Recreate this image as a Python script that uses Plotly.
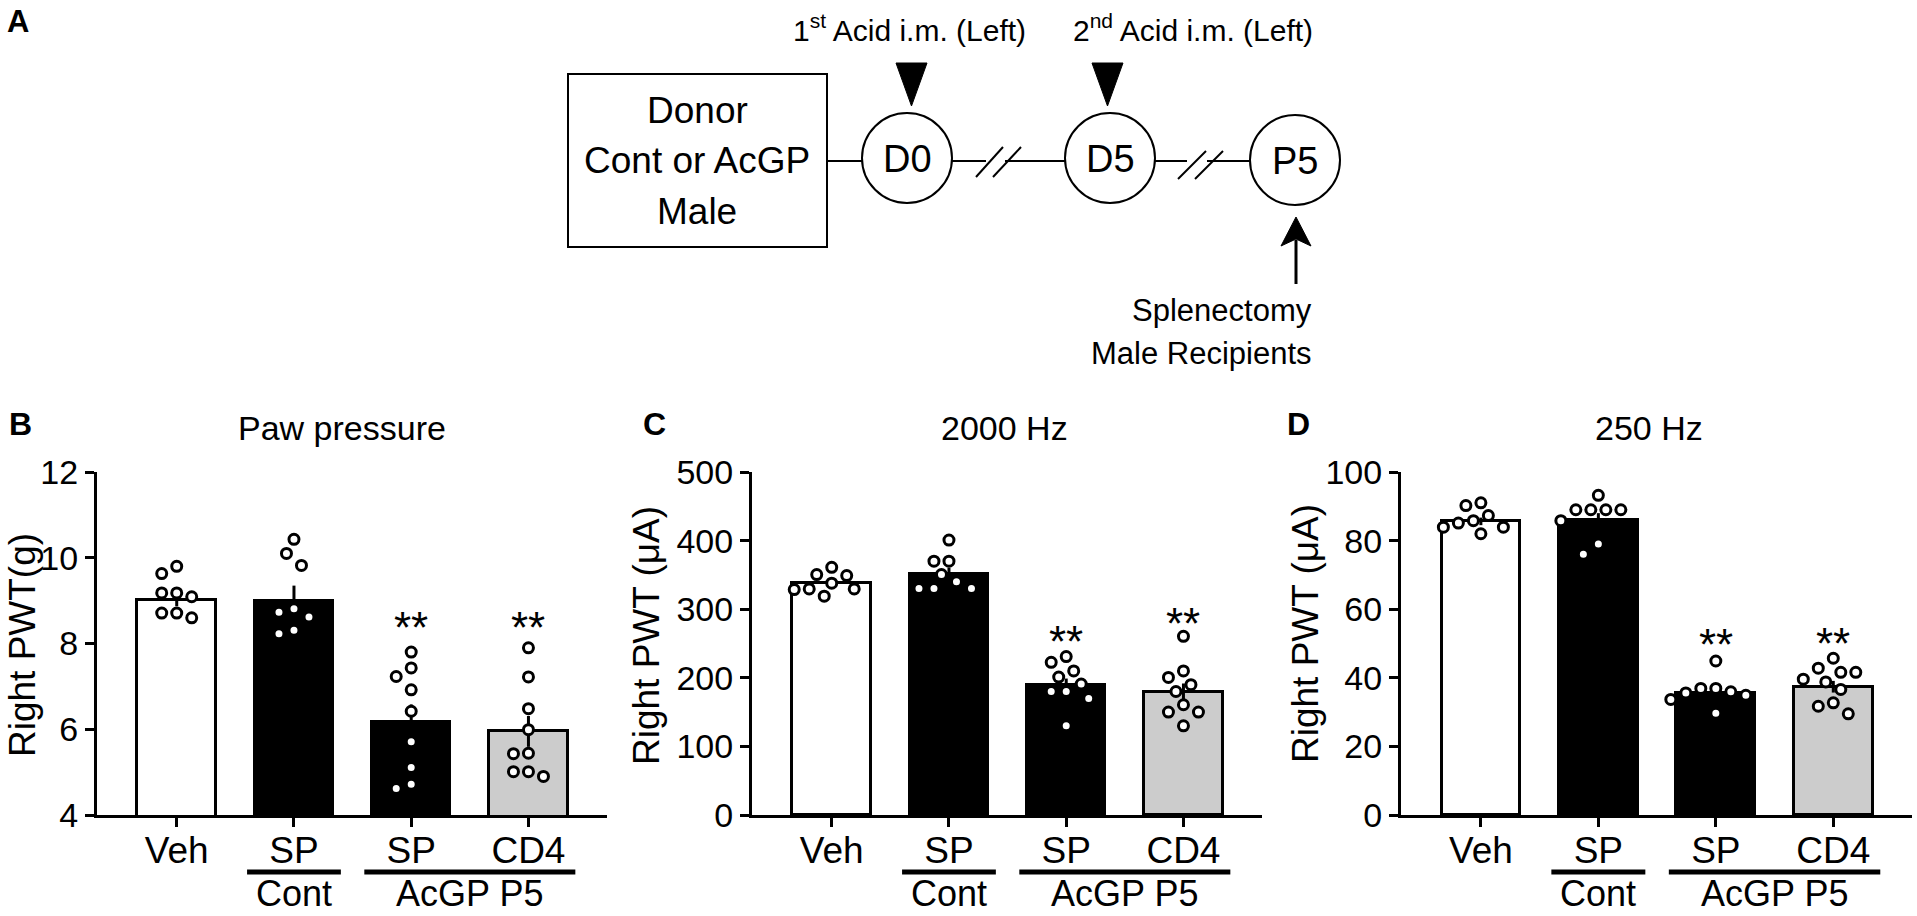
import plotly.graph_objects as go

W, H = 1917, 916
FONT = "Liberation Sans, Arial, sans-serif"

# ---------------- data ----------------
categories = ["Veh", "SP", "SP", "CD4"]
group_labels = ["Cont", "AcGP P5"]
bar_colors = ["#ffffff", "#000000", "#000000", "#cccccc"]

# Panel B: Paw pressure
b_title = "Paw pressure"
b_ytitle = "Right PWT(g)"
b_range = [4, 12]
b_ticks = [4, 6, 8, 10, 12]
b_means = [9.02, 8.98, 6.18, 5.95]
b_sem = [0.15, 0.37, 0.40, 0.36]
b_veh = [9.80, 9.63, 9.18, 9.18, 9.09, 8.71, 8.71, 8.60]
b_sp_cont = [10.43, 10.10, 9.82, 8.81, 8.73, 8.62, 8.31, 8.23]
b_sp_acgp = [7.80, 7.43, 7.23, 6.92, 6.42, 5.71, 5.11, 4.72, 4.62]
b_cd4 = [7.90, 7.22, 6.48, 5.99, 5.44, 5.43, 5.01, 5.01, 4.90]
b_stars = [8.6, 8.6]

# Panel C: 2000 Hz
c_title = "2000 Hz"
c_ytitle = "Right PWT (μA)"
c_range = [0, 500]
c_ticks = [0, 100, 200, 300, 400, 500]
c_means = [338, 351.5, 188.9, 178.7]
c_sem = [5, 9, 10, 13]
c_veh = [361, 350.5, 349, 338, 329.6, 329.6, 328.6, 319]
c_sp_cont = [400.7, 370, 370, 350.5, 340, 330, 330, 330]
c_sp_acgp = [231, 222.5, 210, 201, 190.8, 180, 180, 170, 130]
c_cd4 = [260.5, 210, 200.6, 190, 180, 160.7, 150, 150, 130]
c_stars = [268, 293.6]

# Panel D: 250 Hz
d_title = "250 Hz"
d_ytitle = "Right PWT (μA)"
d_range = [0, 100]
d_ticks = [0, 20, 40, 60, 80, 100]
d_means = [85.6, 86.0, 35.6, 37.4]
d_sem = [1.1, 2.0, 1.5, 1.7]
d_veh = [91.0, 90.2, 87.3, 85.8, 85.1, 83.9, 83.9, 82.0]
d_sp_cont = [93.2, 89.0, 89.0, 89.0, 89.0, 85.8, 79.0, 76.0]
d_sp_acgp = [44.9, 36.9, 36.9, 35.9, 35.6, 34.9, 33.7, 29.7]
d_cd4 = [45.7, 42.8, 41.6, 41.6, 39.6, 38.8, 36.6, 32.7, 31.7, 29.5]
d_stars = [52.5, 53.0]

# Schematic (panel A) texts
a_box_lines = ["Donor", "Cont or AcGP", "Male"]
a_nodes = ["D0", "D5", "P5"]
a_inj = ["1<sup>st</sup> Acid i.m. (Left)", "2<sup>nd</sup> Acid i.m. (Left)"]
a_recip = ["Splenectomy", "Male Recipients"]

# ---------------- layout helpers ----------------
def px(x):
    return x / W

def py(y):
    return 1 - y / H

X_RANGE = [-0.68, 3.67]
Y_TOP, Y_BOT = 472, 815
panels = [
    dict(xa="x", ya="y", x0=97, x1=607, title=b_title, ytitle=b_ytitle, rng=b_range, ticks=b_ticks,
         means=b_means, sem=b_sem, pts=[b_veh, b_sp_cont, b_sp_acgp, b_cd4], stars=b_stars,
         letter="B", letter_x=20, ytitle_x=22, ytitle_y=645, title_x=342),
    dict(xa="x2", ya="y2", x0=752, x1=1262, title=c_title, ytitle=c_ytitle, rng=c_range, ticks=c_ticks,
         means=c_means, sem=c_sem, pts=[c_veh, c_sp_cont, c_sp_acgp, c_cd4], stars=c_stars,
         letter="C", letter_x=654, ytitle_x=646, ytitle_y=636, title_x=1004),
    dict(xa="x3", ya="y3", x0=1401, x1=1912, title=d_title, ytitle=d_ytitle, rng=d_range, ticks=d_ticks,
         means=d_means, sem=d_sem, pts=[d_veh, d_sp_cont, d_sp_acgp, d_cd4], stars=d_stars,
         letter="D", letter_x=1298, ytitle_x=1305, ytitle_y=634, title_x=1649),
]


def swarm(values, px_per_unit, px_per_cat, dmin=14.5, step=7.5):
    order = sorted(range(len(values)), key=lambda i: -values[i])
    placed = []
    offs = [0.0] * len(values)
    cands = [0.0]
    for k in range(1, 30):
        cands += [-k * step, k * step]
    for i in order:
        yv = values[i] * px_per_unit
        for c in cands:
            if all((c - a) ** 2 + (yv - b) ** 2 >= dmin * dmin for a, b in placed):
                break
        placed.append((c, yv))
        offs[i] = c / px_per_cat
    return offs


fig = go.Figure()
annotations = []
shapes = []

for p in panels:
    xa, ya = p["xa"], p["ya"]
    xs = [0, 1, 2, 3]
    fig.add_trace(go.Bar(
        x=xs, y=p["means"], width=0.67, xaxis=xa, yaxis=ya,
        marker=dict(color=bar_colors, line=dict(color="black", width=3)),
        error_y=dict(type="data", array=p["sem"], color="black", thickness=3, width=0),
        hoverinfo="skip", showlegend=False,
    ))
    px_per_unit = (Y_BOT - Y_TOP) / (p["rng"][1] - p["rng"][0])
    px_per_cat = (p["x1"] - p["x0"]) / (X_RANGE[1] - X_RANGE[0])
    for ci, vals in enumerate(p["pts"]):
        offs = swarm(vals, px_per_unit, px_per_cat)
        fig.add_trace(go.Scatter(
            x=[ci + o for o in offs], y=vals, mode="markers", xaxis=xa, yaxis=ya,
            marker=dict(symbol="circle", size=10, color="white",
                        line=dict(color="black", width=3)),
            cliponaxis=False, hoverinfo="skip", showlegend=False,
        ))
    # significance stars
    for ci, sv in zip([2, 3], p["stars"]):
        annotations.append(dict(x=ci, y=sv, xref=xa, yref=ya, text="**", showarrow=False,
                                font=dict(family=FONT, size=44, color="black"),
                                xanchor="center", yanchor="middle", yshift=-10))
    # group lines and labels
    for (a, b), lab in zip([(1, 1), (2, 3)], group_labels):
        shapes.append(dict(type="line", xref=xa, yref="paper", x0=a - 0.4, x1=b + 0.4,
                           y0=py(872), y1=py(872), line=dict(color="black", width=5)))
        annotations.append(dict(x=(a + b) / 2, y=0, xref=xa, yref="paper", text=lab,
                                showarrow=False, font=dict(family=FONT, size=36, color="black"),
                                xanchor="center", yanchor="bottom"))
    # panel title, letter, y title
    annotations.append(dict(x=px(p["title_x"]), y=py(428), xref="paper", yref="paper",
                            text=p["title"], showarrow=False,
                            font=dict(family=FONT, size=34, color="black"),
                            xanchor="center", yanchor="middle"))
    annotations.append(dict(x=px(p["letter_x"]), y=py(424), xref="paper", yref="paper",
                            text="<b>%s</b>" % p["letter"], showarrow=False,
                            font=dict(family=FONT, size=32, color="black"),
                            xanchor="center", yanchor="middle"))
    annotations.append(dict(x=px(p["ytitle_x"]), y=py(p["ytitle_y"]), xref="paper",
                            yref="paper", text=p["ytitle"], textangle=-90, showarrow=False,
                            font=dict(family=FONT, size=37, color="black"),
                            xanchor="center", yanchor="middle"))

axis_common_x = dict(range=X_RANGE, tickvals=[0, 1, 2, 3], ticktext=categories, ticks="outside",
                     ticklen=9, tickwidth=3, tickcolor="black", showline=True, linewidth=3,
                     linecolor="black", showgrid=False, zeroline=False, automargin=False,
                     ticklabelstandoff=-8,
                     tickfont=dict(family=FONT, size=37, color="black"), fixedrange=True)
layout_axes = {}
for i, p in enumerate(panels):
    sfx = "" if i == 0 else str(i + 1)
    layout_axes["xaxis" + sfx] = dict(axis_common_x, domain=[px(p["x0"]), px(p["x1"])],
                                      anchor="y" + sfx)
    layout_axes["yaxis" + sfx] = dict(range=p["rng"], tickvals=p["ticks"], ticks="outside", ticklen=9,
                                      tickwidth=3, tickcolor="black", showline=True, linewidth=3,
                                      linecolor="black", showgrid=False, zeroline=False, automargin=False,
                                      tickfont=dict(family=FONT, size=34, color="black"),
                                      domain=[py(Y_BOT), py(Y_TOP)], anchor="x" + sfx, fixedrange=True)

# ---------------- schematic (panel A) ----------------
def pline(x0, y0, x1, y1, w=2):
    shapes.append(dict(type="line", xref="paper", yref="paper", x0=px(x0), y0=py(y0),
                       x1=px(x1), y1=py(y1), line=dict(color="black", width=w)))

def pcircle(cx, cy, r):
    shapes.append(dict(type="circle", xref="paper", yref="paper", x0=px(cx - r), x1=px(cx + r),
                       y0=py(cy + r), y1=py(cy - r), line=dict(color="black", width=2),
                       fillcolor="white"))

def ppath(pts):
    d = "M " + " L ".join("%.5f,%.5f" % (px(a), py(b)) for a, b in pts) + " Z"
    shapes.append(dict(type="path", xref="paper", yref="paper", path=d,
                       fillcolor="black", line=dict(color="black", width=1)))

def ptext(x, y, t, size, xanchor="center", bold=False):
    annotations.append(dict(x=px(x), y=py(y), xref="paper", yref="paper",
                            text=("<b>%s</b>" % t) if bold else t, showarrow=False,
                            font=dict(family=FONT, size=size, color="black"),
                            xanchor=xanchor, yanchor="middle"))

shapes.append(dict(type="rect", xref="paper", yref="paper", x0=px(568), x1=px(827),
                   y0=py(247), y1=py(74), line=dict(color="black", width=2)))
line_y = 161
pline(827, line_y, 863, line_y)
pline(952, line_y, 986, line_y)
pline(1005, line_y, 1066, line_y)
pline(976, 177, 1003, 147)
pline(993, 177, 1021, 147)
pline(1155, line_y, 1187, line_y)
pline(1207, line_y, 1251, line_y)
pline(1178, 179, 1206, 151)
pline(1195, 179, 1223, 151)
node_x = [907, 1110, 1295]
node_y = [158, 158, 160]
for (cx, cy), lab in zip(zip(node_x, node_y), a_nodes):
    pcircle(cx, cy, 45)
    ptext(cx, cy + 1, lab, 38)
ppath([(896, 63), (927, 63), (911.5, 106)])
ppath([(1092, 63), (1123, 63), (1107.5, 106)])
ppath([(1281, 246), (1296, 217), (1311, 246), (1296, 239)])
pline(1296, 240, 1296, 284, w=3)
ptext(1028, 28, a_inj[0], 30, xanchor="right")
ptext(1315, 28, a_inj[1], 30, xanchor="right")
ptext(1314, 311, a_recip[0], 31, xanchor="right")
ptext(1314, 354, a_recip[1], 31, xanchor="right")
for i, t in enumerate(a_box_lines):
    ptext(697, 111 + 50 * i, t, 37)
ptext(18, 21, "A", 31, bold=True)

fig.update_layout(
    template="none",
    width=W, height=H, margin=dict(l=0, r=0, t=0, b=0, pad=0, autoexpand=False), autosize=False,
    paper_bgcolor="white", plot_bgcolor="rgba(0,0,0,0)",
    showlegend=False, annotations=annotations, shapes=shapes, bargap=0,
    font=dict(family=FONT, color="black"),
    **layout_axes,
)

fig.write_html("out.html", config={"displayModeBar": False},
               post_script="document.body.style.margin='0';document.body.style.overflow='hidden';")
